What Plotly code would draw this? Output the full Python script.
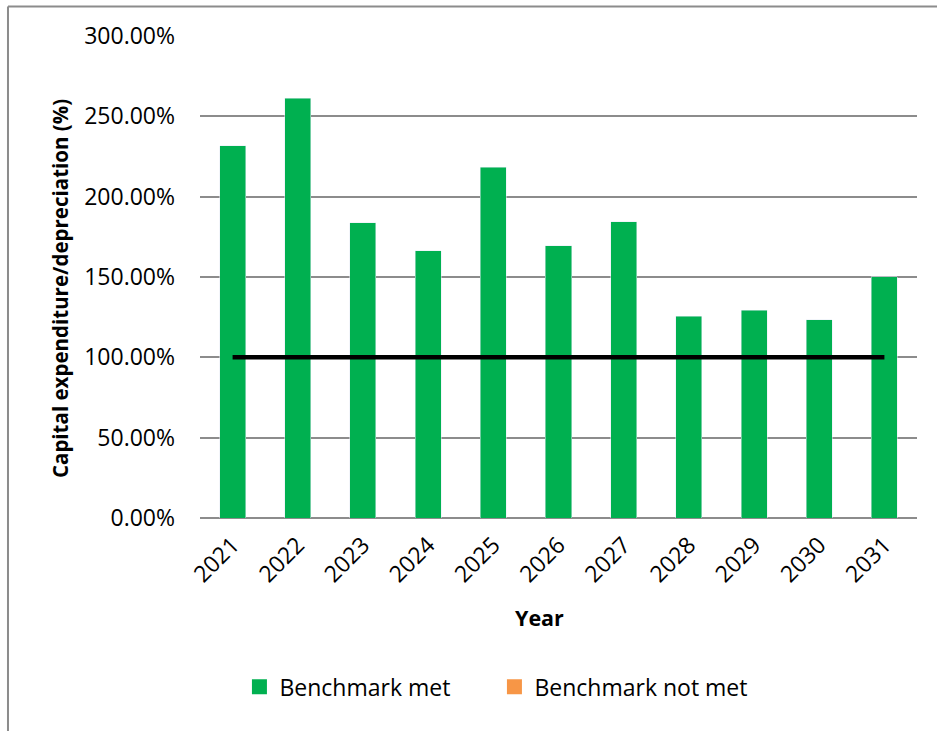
import plotly.graph_objects as go

years = ["2021", "2022", "2023", "2024", "2025", "2026", "2027", "2028", "2029", "2030", "2031"]
met = [2.317, 2.612, 1.837, 1.663, 2.182, 1.694, 1.845, 1.256, 1.293, 1.233, 1.501]
not_met = [None] * 11
benchmark = [1.0] * 11
y_ticks = [0, 0.5, 1.0, 1.5, 2.0, 2.5, 3.0]
y_tick_text = ["0.00%", "50.00%", "100.00%", "150.00%", "200.00%", "250.00%", "300.00%"]

GREEN = "#00B050"
ORANGE = "#F79646"
FONT = "Open Sans"
fig = go.Figure()
fig.add_trace(go.Bar(x=years, y=met, name="Benchmark met", marker_color=GREEN,
                     legendgroup="met", showlegend=False))
fig.add_trace(go.Bar(x=years, y=not_met, name="Benchmark not met", marker_color=ORANGE,
                     legendgroup="notmet", showlegend=False))
fig.add_trace(go.Scatter(x=years, y=benchmark, mode="lines", line=dict(color="black", width=4.5),
                         showlegend=False, hoverinfo="skip"))
# legend entries (square swatches)
fig.add_trace(go.Scatter(x=[None], y=[None], mode="markers", name="Benchmark met", legendgroup="met",
                         marker=dict(symbol="square", size=15, color=GREEN)))
fig.add_trace(go.Scatter(x=[None], y=[None], mode="markers", name="Benchmark not met", legendgroup="notmet",
                         marker=dict(symbol="square", size=15, color=ORANGE)))

fig.update_layout(
    width=937, height=731,
    margin=dict(l=200, r=20, t=36, b=213),
    paper_bgcolor="white", plot_bgcolor="white",
    barmode="stack", bargap=0.6,
    font=dict(family=FONT, size=23, color="black"),
    showlegend=True,
    legend=dict(orientation="h", x=0.055, xanchor="left", y=-0.35, yanchor="middle",
                font=dict(size=23), entrywidth=210, traceorder="normal", itemsizing="trace"),
    xaxis=dict(type="category", tickangle=-45, showgrid=False, showline=False,
               ticks="", ticklabelstandoff=8, tickfont=dict(size=23)),
    yaxis=dict(range=[0, 3.0], tickvals=y_ticks, ticktext=y_tick_text,
               showgrid=True, gridcolor="#8c8c8c", gridwidth=1.5,
               zeroline=True, zerolinecolor="#8c8c8c", zerolinewidth=1.5,
               showline=False, ticks="", ticklabelstandoff=24, tickfont=dict(size=23)),
    annotations=[
        dict(text="<b>Capital expenditure/depreciation (%)</b>", textangle=-90,
             xref="paper", yref="paper", x=-0.1953, y=0.477, xanchor="center", yanchor="middle",
             showarrow=False, font=dict(size=20.5)),
        dict(text="<b>Year</b>", xref="paper", yref="paper", x=0.474, y=-0.2054,
             xanchor="center", yanchor="middle", showarrow=False, font=dict(size=21.5)),
    ],
    shapes=[
        dict(type="line", xref="paper", yref="paper", x0=-0.2678, x1=-0.2678, y0=1.0612, y1=-0.6,
             line=dict(color="#8c8c8c", width=2)),
        dict(type="line", xref="paper", yref="paper", x0=-0.2678, x1=1.2, y0=1.0612, y1=1.0612,
             line=dict(color="#8c8c8c", width=2)),
    ],
)

fig.write_html("out.html")
